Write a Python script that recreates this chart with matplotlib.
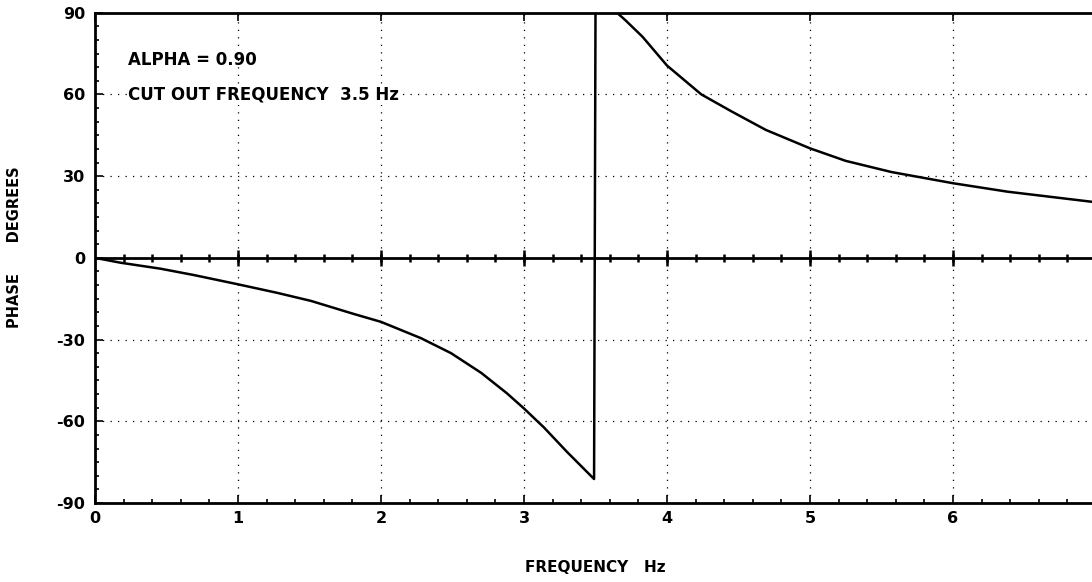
import matplotlib
matplotlib.use('Agg')
import matplotlib.pyplot as plt
import numpy as np

# phase response
freq_lag = [0, 0.18, 0.46, 0.69, 0.99, 1.27, 1.51, 1.81, 2.0, 2.28, 2.49, 2.70, 2.88, 3.0, 3.14, 3.30, 3.49]
phase_lag = [0, -1.8, -4.0, -6.3, -9.6, -12.8, -15.8, -20.6, -23.5, -29.5, -35.0, -42.2, -49.7, -55.3, -62.3, -71.2, -81.2]
freq_lead = [3.5, 3.65, 3.71, 3.83, 4.0, 4.24, 4.45, 4.69, 5.0, 5.25, 5.57, 6.0, 6.38, 7.0]
phase_lead = [90, 90, 87.2, 81.1, 70.6, 60, 53.8, 47, 40.2, 35.6, 31.5, 27.4, 24.3, 20.4]

xticks = [0, 1, 2, 3, 4, 5, 6]
xticklabels = ['0', '1', '2', '3', '4', '5', '6']
yticks = [-90, -60, -30, 0, 30, 60, 90]
yticklabels = ['-90', '-60', '-30', '0', '30', '60', '90']

alpha_text = 'ALPHA = 0.90'
cutout_text = 'CUT OUT FREQUENCY  3.5 Hz'

plt.rcParams['font.family'] = 'DejaVu Sans'
plt.rcParams['font.weight'] = 'bold'

W, H = 1092, 582
fig = plt.figure(figsize=(W / 100, H / 100), dpi=100)
# axes placed so that x=7 falls just past the right edge, like the scan
ax = fig.add_axes([95 / W, (H - 503) / H, (1096 - 95) / W, (503 - 12.7) / H])

ax.set_xlim(0, 7)
ax.set_ylim(-90, 90)

# sparse dotted grid
dot = (0, (1, 5))
for x in xticks[1:]:
    ax.axvline(x, color='black', lw=0.9, ls=dot, zorder=1)
for y in [-60, -30, 30, 60]:
    ax.axhline(y, color='black', lw=0.9, ls=dot, zorder=1)

# zero line with little tick marks
zx = np.arange(0.2, 7, 0.2)
ax.axhline(0, color='black', lw=2, zorder=2)
ax.plot(zx, np.zeros(len(zx)), ls='none', marker='|', ms=6, mew=1.8, color='black', zorder=2)
ax.plot(xticks[1:], [0] * len(xticks[1:]), ls='none', marker='|', ms=11, mew=1.8,
        color='black', zorder=2)

# curve (lag branch, jump at cut-out, lead branch)
ax.plot(freq_lag + freq_lead, phase_lag + phase_lead, color='black', lw=1.8, zorder=3)

ax.set_xticks(xticks)
ax.set_xticklabels(xticklabels, fontsize=11.5, fontweight='bold')
ax.set_yticks(yticks)
ax.set_yticklabels(yticklabels, fontsize=11.5, fontweight='bold')
ax.set_xticks(np.arange(0, 7.01, 0.2), minor=True)
ax.set_yticks(np.arange(-90, 91, 5), minor=True)
ax.tick_params(which='major', direction='in', length=6, width=1.2, top=True)
ax.tick_params(axis='x', which='major', pad=6)
ax.tick_params(axis='y', which='major', pad=7)
ax.tick_params(which='minor', direction='in', length=3, width=1.2, top=False)

for s in ['left', 'bottom', 'top']:
    ax.spines[s].set_linewidth(2)
ax.spines['right'].set_visible(False)

ax.set_xlabel('FREQUENCY   Hz', fontsize=11, fontweight='bold')
ax.set_ylabel('PHASE      DEGREES', fontsize=10.5, fontweight='bold')
ax.xaxis.set_label_coords(0.5, -(568 - 503) / 490.3)
ax.yaxis.set_label_coords(-(95 - 15) / 1001, (503 - 247) / 490.3)
ax.xaxis.label.set_va('center')
ax.yaxis.label.set_va('center')

ax.text(0.23, 72.6, alpha_text, fontsize=12, fontweight='bold', va='center', ha='left', zorder=4)
ax.text(0.23, 60, cutout_text, fontsize=12, fontweight='bold', va='center', ha='left', zorder=4,
        bbox=dict(facecolor='white', edgecolor='none', pad=1))

plt.savefig('out.png', dpi=100)
plt.close()
